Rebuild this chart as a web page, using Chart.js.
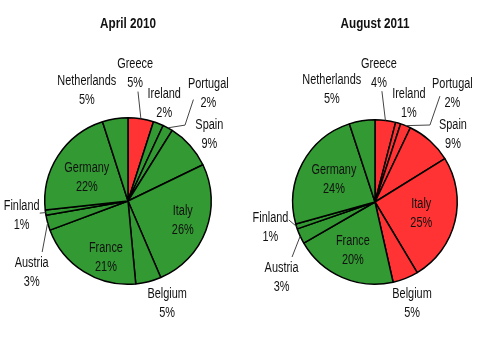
<!DOCTYPE html>
<html>
<head>
<meta charset="utf-8">
<script src="https://cdn.jsdelivr.net/npm/chart.js@4"></script>
<style>
    body { margin: 0; background: #fff; }
    .wrap { display: flex; width: 480px; height: 337px; }
    .cell { width: 240px; height: 337px; }
</style>
</head>
<body>
<div class="wrap">
    <div class="cell"><canvas id="chart-2010" width="240" height="337"></canvas></div>
    <div class="cell"><canvas id="chart-2011" width="240" height="337"></canvas></div>
</div>
<script>
// data, clockwise from 12 o'clock
const countries = ['Greece', 'Ireland', 'Portugal', 'Spain', 'Italy', 'Belgium', 'France', 'Austria', 'Finland', 'Germany', 'Netherlands'];
const share2010 = [5, 2, 2, 9, 26, 5, 21, 3, 1, 22, 5];
const share2011 = [4, 1, 2, 9, 25, 5, 20, 3, 1, 24, 5];
const titles = ['April 2010', 'August 2011'];

// styles
const GREEN = '#339933';
const RED = '#ff3333';
const FONT = "'Liberation Sans', Arial, sans-serif";
const NARROW = 0.78; // squeeze text horizontally, the original uses a condensed face
const colors2010 = [RED, GREEN, GREEN, GREEN, GREEN, GREEN, GREEN, GREEN, GREEN, GREEN, GREEN];
const colors2011 = [RED, RED, RED, RED, RED, RED, GREEN, GREEN, GREEN, GREEN, GREEN];

// label placement: [angle shift from slice middle (deg), radius factor]
const spots2010 = {
    Greece: [-5.7, 1.53], Ireland: [-1, 1.25], Portugal: [8.3, 1.61], Spain: [2.7, 1.26],
    Italy: [-0.5, 0.70], Belgium: [-6.6, 1.32], France: [-10.8, 0.73], Austria: [-21.4, 1.44],
    Finland: [0, 1.29], Germany: [-3.2, 0.57], Netherlands: [-11.5, 1.42]
};
const spots2011 = {
    Greece: [-5.5, 1.56], Ireland: [2.7, 1.26], Portugal: [13.7, 1.62], Spain: [7.5, 1.25],
    Italy: [0.4, 0.58], Belgium: [1.7, 1.31], France: [0.8, 0.65], Austria: [-14.4, 1.46],
    Finland: [3.3, 1.31], Germany: [0.6, 0.57], Netherlands: [-12, 1.46]
};
// leader lines: points from the label towards the slice edge
const leaders2010 = {
    Greece: [[-3.7, 1.32]],
    Portugal: [[4.3, 1.45], [8.4, 1.14]],
    Austria: [[-15.6, 1.2]],
    Finland: [[0.2, 1.07]]
};
const leaders2011 = {
    Greece: [[-3.7, 1.35]],
    Portugal: [[9.7, 1.51], [13.7, 1.15]],
    Austria: [[-9, 1.21]],
    Finland: [[5.5, 1.07]]
};

function narrowText(ctx, text, x, y, font) {
    ctx.save();
    ctx.font = font;
    ctx.translate(x, y);
    ctx.scale(NARROW, 1);
    ctx.fillText(text, 0, 0);
    ctx.restore();
}

const sliceLabels = {
    id: 'sliceLabels',
    afterDatasetsDraw(chart, args, opts) {
        const ctx = chart.ctx;
        const meta = chart.getDatasetMeta(0);
        const values = chart.data.datasets[0].data;
        const area = chart.chartArea;
        ctx.save();
        ctx.fillStyle = '#111';
        ctx.strokeStyle = '#444';
        ctx.lineWidth = 1;
        ctx.textAlign = 'center';
        ctx.textBaseline = 'middle';
        narrowText(ctx, opts.title, (area.left + area.right) / 2, 24, 'bold 15px ' + FONT);
        meta.data.forEach((arc, i) => {
            const p = arc.getProps(['x', 'y', 'startAngle', 'endAngle', 'outerRadius'], true);
            const mid = (p.startAngle + p.endAngle) / 2;
            const at = (shift, f) => {
                const a = mid + shift * Math.PI / 180;
                return [p.x + Math.cos(a) * p.outerRadius * f, p.y + Math.sin(a) * p.outerRadius * f];
            };
            const name = chart.data.labels[i];
            const lead = opts.leaders[name];
            if (lead) {
                ctx.beginPath();
                lead.concat([[0, 1]]).forEach((pt, k) => {
                    const [lx, ly] = at(pt[0], pt[1]);
                    k ? ctx.lineTo(lx, ly) : ctx.moveTo(lx, ly);
                });
                ctx.stroke();
            }
            const [cx, cy] = at(opts.spots[name][0], opts.spots[name][1]);
            narrowText(ctx, name, cx, cy - 9.5, '14px ' + FONT);
            narrowText(ctx, values[i] + '%', cx, cy + 9.5, '14px ' + FONT);
        });
        ctx.restore();
    }
};

function makePie(id, title, values, colors, padding, spots, leaders) {
    new Chart(document.getElementById(id), {
        type: 'pie',
        data: {
            labels: countries,
            datasets: [{
                data: values,
                backgroundColor: colors,
                borderColor: '#000',
                borderWidth: 1.5
            }]
        },
        options: {
            responsive: false,
            animation: false,
            layout: { padding: padding },
            plugins: {
                legend: { display: false },
                tooltip: { enabled: false },
                sliceLabels: { title: title, spots: spots, leaders: leaders }
            }
        },
        plugins: [sliceLabels]
    });
}

makePie('chart-2010', titles[0], share2010, colors2010,
    { left: 44, right: 28, top: 117, bottom: 52 }, spots2010, leaders2010);
makePie('chart-2011', titles[1], share2011, colors2011,
    { left: 52, right: 22, top: 119, bottom: 52 }, spots2011, leaders2011);
</script>
</body>
</html>
